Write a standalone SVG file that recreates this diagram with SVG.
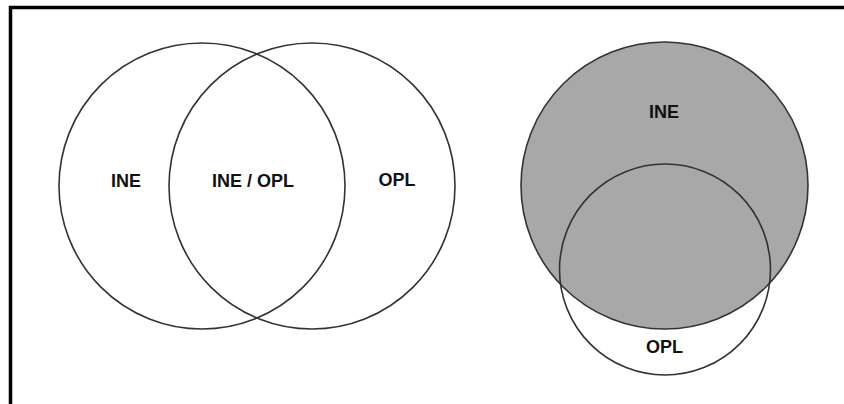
<svg xmlns="http://www.w3.org/2000/svg" width="844" height="404" viewBox="0 0 844 404">
  <style>
    .ring { fill: none; stroke: #333333; stroke-width: 1.6; }
    .shade { fill: #a8a8a8; stroke: #333333; stroke-width: 1.6; }
    .lbl { font-family: "Liberation Sans", Arial, sans-serif; font-weight: bold; font-size: 18px; fill: #111111; text-anchor: middle; }
  </style>
  <rect width="844" height="404" fill="#ffffff"/>
  <!-- frame: only top and left edges fall inside the canvas -->
  <path d="M10.5 404 V7.5 H844" fill="none" stroke="#000000" stroke-width="3.5"/>

  <!-- overlapping sets -->
  <g id="overlap-ine">
    <circle class="ring" cx="202" cy="186" r="143"/>
    <text class="lbl" x="126" y="187">INE</text>
  </g>
  <g id="overlap-opl">
    <circle class="ring" cx="312" cy="186" r="143"/>
    <text class="lbl" x="397" y="186">OPL</text>
  </g>
  <g id="overlap-both">
    <text class="lbl" x="253" y="187">INE / OPL</text>
  </g>

  <!-- nested sets -->
  <g id="nested-ine">
    <circle class="shade" cx="664.5" cy="185.5" r="143.5"/>
    <text class="lbl" x="664" y="118">INE</text>
  </g>
  <g id="nested-opl">
    <circle class="ring" cx="665" cy="269.5" r="105.5"/>
    <text class="lbl" x="664.5" y="353">OPL</text>
  </g>
</svg>
